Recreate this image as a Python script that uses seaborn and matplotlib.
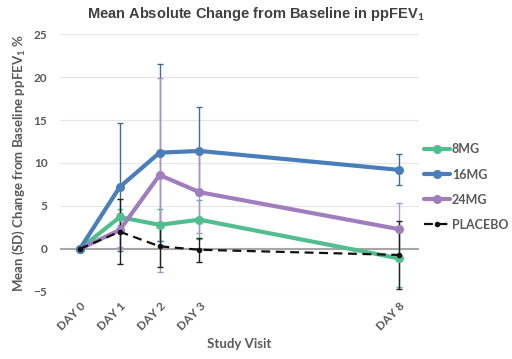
import numpy as np
import pandas as pd
import seaborn as sns
import matplotlib.pyplot as plt

days = [0, 1, 2, 3, 8]
day_labels = ['DAY 0', 'DAY 1', 'DAY 2', 'DAY 3', 'DAY 8']
groups = ['8MG', '16MG', '24MG', 'PLACEBO']

mean_8mg = [0, 3.7, 2.8, 3.4, -1.1]
sd_8mg = [0, 0.9, 1.9, 2.3, 3.3]
mean_16mg = [0, 7.2, 11.2, 11.4, 9.2]
sd_16mg = [0, 7.4, 10.3, 5.1, 1.8]
mean_24mg = [0, 2.2, 8.6, 6.6, 2.3]
sd_24mg = [0, 2.0, 11.3, 4.8, 3.1]
mean_pbo = [0, 2.0, 0.3, -0.1, -0.7]
sd_pbo = [0, 3.8, 2.4, 1.4, 4.0]

means = {'8MG': mean_8mg, '16MG': mean_16mg, '24MG': mean_24mg, 'PLACEBO': mean_pbo}
sds = {'8MG': sd_8mg, '16MG': sd_16mg, '24MG': sd_24mg, 'PLACEBO': sd_pbo}

colors = {'8MG': '#52BE90', '16MG': '#4A7EBB', '24MG': '#A07DBD', 'PLACEBO': '#111111'}
err_colors = {'8MG': '#52BE90', '16MG': '#3F6D9E', '24MG': '#B58FCC', 'PLACEBO': '#222222'}

rows = []
for g in groups:
    for d, m, s in zip(days, means[g], sds[g]):
        rows.append({'day': d, 'group': g, 'mean': m, 'sd': s})
df = pd.DataFrame(rows)

sns.set_style("white")
plt.rcParams['font.family'] = ['Lato', 'DejaVu Sans']
plt.rcParams['mathtext.fontset'] = 'custom'
plt.rcParams['mathtext.bf'] = 'Lato:bold'

fig = plt.figure(figsize=(5.12, 3.59), dpi=100)
ax = fig.add_axes([0.117, 0.187, 0.701, 0.718])

txt = '#595959'

# error bars under the lines
for g in groups:
    sub = df[df.group == g]
    ax.errorbar(sub['day'], sub['mean'], yerr=sub['sd'], fmt='none',
                ecolor=err_colors[g], elinewidth=1, capsize=2.5, capthick=1, zorder=2)

zorders = {'8MG': 3, '24MG': 4, '16MG': 5, 'PLACEBO': 6}
for g in groups:
    sub = df[df.group == g]
    if g == 'PLACEBO':
        sns.lineplot(data=sub, x='day', y='mean', ax=ax, color=colors[g], lw=1.6,
                     marker='o', markersize=4, markeredgewidth=0, label=g,
                     zorder=zorders[g])
        ax.lines[-1].set_linestyle((0, (4, 2.5)))
    else:
        sns.lineplot(data=sub, x='day', y='mean', ax=ax, color=colors[g], lw=3,
                     marker='o', markersize=6.5, markeredgewidth=0, label=g,
                     zorder=zorders[g])

ax.axhline(0, color='#A6A6A6', lw=1.5, zorder=1)
ax.set_xlim(-0.5, 8.5)
ax.set_ylim(-5, 25)
ax.set_yticks([-5, 0, 5, 10, 15, 20, 25])
ax.yaxis.grid(True, color='#E6E6E6', lw=0.8)
ax.set_axisbelow(True)
ax.set_xticks(days)
ax.set_xticklabels(day_labels, rotation=45, ha='right', rotation_mode='anchor')
ax.tick_params(axis='both', length=0, colors=txt, labelsize=8.5)
for lab in ax.get_xticklabels() + ax.get_yticklabels():
    lab.set_fontweight('bold')
ax.tick_params(axis='x', pad=6)
ax.tick_params(axis='y', pad=9)
for sp in ax.spines.values():
    sp.set_visible(False)

ax.set_xlabel('Study Visit', fontsize=9.5, fontweight='bold', color=txt, labelpad=4)
ax.set_ylabel('Mean (SD) Change from Baseline ppFEV$_\\mathbf{1}$ %', fontsize=9.5,
              fontweight='bold', color=txt, labelpad=5)
fig.text(0.5, 0.935, 'Mean Absolute Change from Baseline in ppFEV$_\\mathbf{1}$',
         ha='center', va='bottom', fontsize=10.5, fontweight='bold', color='#404040',
         family=['Liberation Sans', 'DejaVu Sans'])

leg = ax.legend(loc='upper left', bbox_to_anchor=(0.993, 0.605), frameon=False,
                handlelength=2.1, handletextpad=0.15, labelspacing=1.05,
                borderaxespad=0.2, prop={'weight': 'bold', 'size': 9})
for t in leg.get_texts():
    t.set_color(txt)

fig.savefig('out.png', dpi=100)
